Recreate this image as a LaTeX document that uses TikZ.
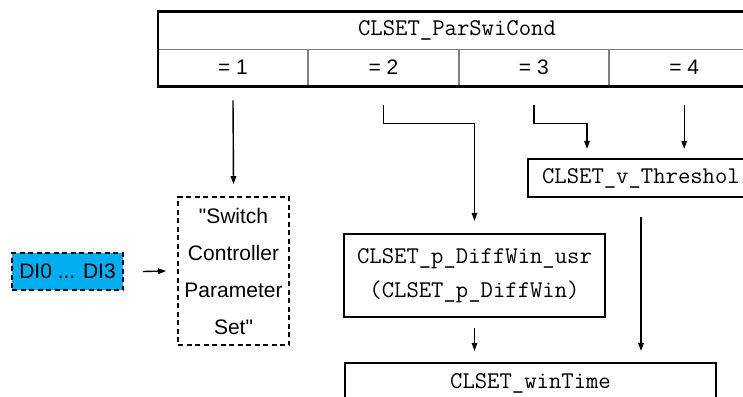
\documentclass[tikz,border=0pt]{standalone}
\usepackage{fontspec}
\setmainfont{Liberation Sans}
\usetikzlibrary{
    arrows.meta, % For arrow tips
    positioning, % For placing the table cells
    calc         % For shifted anchors
}
\definecolor{diblue}{RGB}{0,174,239}

\begin{document}
\begin{tikzpicture}[
    x=1pt, y=-1pt, % pixel-like units, y runs downwards
    >={Triangle[length=8pt,width=5.5pt]}, % Set default arrow tip style
    frame/.style={draw, line width=2.1pt}, % Thick outer border
    cell/.style={draw=gray, line width=0.9pt, minimum width=149.5pt,
        minimum height=37pt, inner sep=0pt, font=\fontsize{21}{25}\selectfont},
    param/.style={font=\ttfamily\fontsize{24}{34}\selectfont}, % Parameter names
    pbox/.style={frame, param, inner sep=0pt}, % Box holding a parameter
    dashbox/.style={draw, line width=1.6pt, dash pattern=on 5pt off 3.5pt,
        inner sep=0pt, font=\fontsize{21}{37}\selectfont},
    link/.style={->, line width=1.4pt} % Connector arrows
]

    % Page size, cut on the right and at the bottom
    \useasboundingbox (0,0) rectangle (743,396);
    \clip (0,0) rectangle (743,396);

    % Selection table
    \node[cell] (c1) at (233,67.5) {= 1};
    \node[cell, right=0pt of c1] (c2) {= 2};
    \node[cell, right=0pt of c2] (c3) {= 3};
    \node[cell, right=0pt of c3] (c4) {= 4};
    \node[cell, param, minimum width=598pt] (head) at (457,30.5) {CLSET\_ParSwiCond};
    \draw[frame] (head.north west) rectangle (c4.south east);

    % Boxes below the table
    \node[dashbox, minimum width=111pt, minimum height=148pt, align=center]
        (swset) at (233.5,271) {\textquotedbl Switch\\Controller\\Parameter\\Set\textquotedbl};
    \node[dashbox, fill=diblue, minimum width=111pt, minimum height=37pt]
        (di) at (67.5,271.5) {DI0 ... DI3};
    \node[pbox, minimum width=261pt, minimum height=83pt, align=center]
        (diffwin) at (474.5,275.5) {CLSET\_p\_DiffWin\_usr\\(CLSET\_p\_DiffWin)};
    \node[pbox, anchor=west, minimum height=38pt, text width=250pt,
        align=left, inner xsep=14pt] (thresh) at (527,178) {CLSET\_v\_Threshol};
    \node[pbox, minimum width=371pt, minimum height=40pt]
        (wintime) at (530.5,383) {CLSET\_winTime};

    % Connectors
    \draw[link] ([yshift=-14pt]c1.south) -- ([yshift=12pt]swset.north);
    \draw[link] ([yshift=-19pt]c2.south) -- ++(0,18) -| ([yshift=12pt]diffwin.north);
    \draw[link] ([yshift=-19pt]c3.south) -- ++(0,18)
        -| ([xshift=60pt, yshift=9pt]thresh.north west);
    \draw[link] ([yshift=-19pt]c4.south) -- ($(c4.south |- thresh.north)+(0,-9)$);
    \draw[link] ([xshift=19pt]di.east) -- ([xshift=-11pt]swset.west);

    \coordinate (tdrop) at ($(thresh.south west)+(114,19)$); % Start below the threshold box
    \draw[link] (tdrop) -- ($(tdrop |- wintime.north)+(0,-11)$);
    \draw[link] ([yshift=-10pt]diffwin.south) -- ($(diffwin.south |- wintime.north)+(0,-11)$);

\end{tikzpicture}
\end{document}
